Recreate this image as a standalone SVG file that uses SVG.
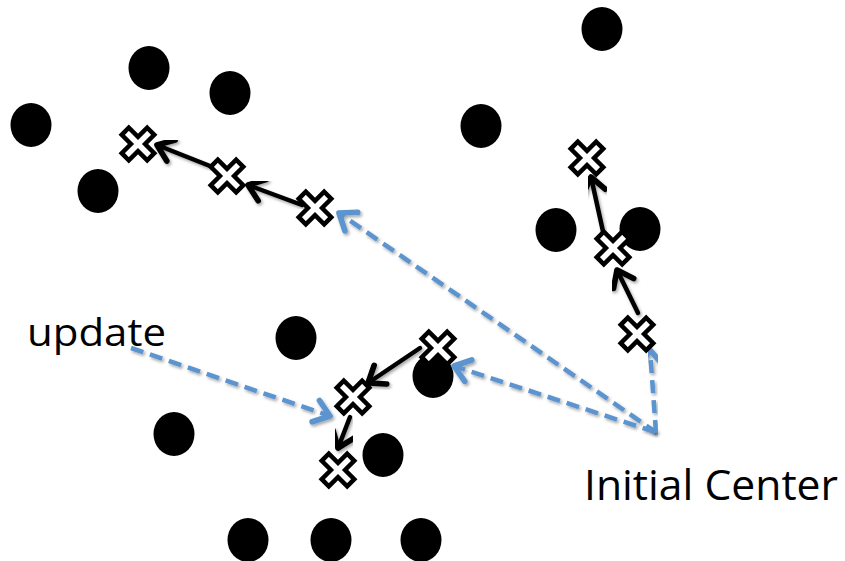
<svg xmlns="http://www.w3.org/2000/svg" width="845" height="561" viewBox="0 0 845 561">
<style>
.dot{fill:#000}
.cross{fill:#fff;stroke:#000;stroke-width:4.5;stroke-linejoin:miter}
.blk{fill:none;stroke:#000;stroke-width:4.5;stroke-linecap:round}
.blue{fill:none;stroke:#5b94cf;stroke-width:4.5;stroke-dasharray:13 7}
.lbl{font-family:"Open Sans","Noto Sans",sans-serif;fill:#000}
</style>
<defs>
<filter id="sh" x="-20%" y="-20%" width="140%" height="140%">
<feDropShadow dx="1.5" dy="2" stdDeviation="1.5" flood-color="#000" flood-opacity="0.35"/>
</filter>
<marker id="ab" markerUnits="userSpaceOnUse" markerWidth="30" markerHeight="30" viewBox="-16 -12 20 24" refX="0" refY="0" orient="auto">
<path d="M-12,-9 L0,0 L-12,9" fill="none" stroke="#000" stroke-width="4.5" stroke-linecap="round" stroke-linejoin="round"/>
</marker>
<marker id="au" markerUnits="userSpaceOnUse" markerWidth="30" markerHeight="30" viewBox="-16 -12 20 24" refX="0" refY="0" orient="auto">
<path d="M-12,-9 L0,0 L-12,9" fill="none" stroke="#5b94cf" stroke-width="4.5" stroke-linecap="round" stroke-linejoin="round"/>
</marker>
<path id="x" d="M-5,-18 H5 V-5 H18 V5 H5 V18 H-5 V5 H-18 V-5 H-5 Z" transform="rotate(45)"/>
</defs>
<g id="dots">
<ellipse id="d1" class="dot" cx="149" cy="68" rx="20.5" ry="22"/>
<ellipse id="d2" class="dot" cx="230" cy="93" rx="20.5" ry="22"/>
<ellipse id="d3" class="dot" cx="31" cy="125" rx="20.5" ry="22"/>
<ellipse id="d4" class="dot" cx="98" cy="191" rx="20.5" ry="22"/>
<ellipse id="d5" class="dot" cx="481" cy="126" rx="20.5" ry="22"/>
<ellipse id="d6" class="dot" cx="602" cy="29" rx="20.5" ry="22"/>
<ellipse id="d7" class="dot" cx="556" cy="230" rx="20.5" ry="22"/>
<ellipse id="d8" class="dot" cx="640" cy="229" rx="20.5" ry="22"/>
<ellipse id="d9" class="dot" cx="296" cy="338" rx="20.5" ry="22"/>
<ellipse id="d10" class="dot" cx="433" cy="376" rx="20.5" ry="22"/>
<ellipse id="d11" class="dot" cx="174" cy="434" rx="20.5" ry="22"/>
<ellipse id="d12" class="dot" cx="383" cy="455" rx="20.5" ry="22"/>
<ellipse id="d13" class="dot" cx="248" cy="540" rx="20.5" ry="22"/>
<ellipse id="d14" class="dot" cx="331" cy="540" rx="20.5" ry="22"/>
<ellipse id="d15" class="dot" cx="421" cy="540" rx="20.5" ry="22"/>
</g>
<g id="connectors">
<line class="blk" filter="url(#sh)" x1="302" y1="205" x2="248" y2="185" marker-end="url(#ab)"/>
<line class="blk" filter="url(#sh)" x1="210" y1="166" x2="157" y2="145" marker-end="url(#ab)"/>
<line class="blk" filter="url(#sh)" x1="420" y1="348" x2="368" y2="383" marker-end="url(#ab)"/>
<line class="blk" filter="url(#sh)" x1="350" y1="417" x2="338" y2="448" marker-end="url(#ab)"/>
<line class="blk" filter="url(#sh)" x1="638" y1="313" x2="617" y2="270" marker-end="url(#ab)"/>
<line class="blk" filter="url(#sh)" x1="604" y1="236" x2="591" y2="177" marker-end="url(#ab)"/>
<line class="blue" filter="url(#sh)" x1="657" y1="433" x2="339" y2="213" marker-end="url(#au)"/>
<line class="blue" filter="url(#sh)" x1="655" y1="432" x2="454" y2="366" marker-end="url(#au)"/>
<line class="blue" filter="url(#sh)" x1="656" y1="433" x2="650" y2="350" marker-end="url(#au)"/>
<line class="blue" filter="url(#sh)" x1="131" y1="348" x2="330" y2="416" marker-end="url(#au)"/>
</g>
<g id="c1"><use href="#x" class="cross" transform="translate(138,144)"/></g>
<g id="c2"><use href="#x" class="cross" transform="translate(227,176)"/></g>
<g id="c3"><use href="#x" class="cross" transform="translate(315,208)"/></g>
<g id="c4"><use href="#x" class="cross" transform="translate(438,348)"/></g>
<g id="c5"><use href="#x" class="cross" transform="translate(353,397)"/></g>
<g id="c6"><use href="#x" class="cross" transform="translate(338,470)"/></g>
<g id="c7"><use href="#x" class="cross" transform="translate(587,158)"/></g>
<g id="c8"><use href="#x" class="cross" transform="translate(613,248)"/></g>
<g id="c9"><use href="#x" class="cross" transform="translate(637,334)"/></g>
<g id="labels">
<text id="t-update" class="lbl" x="27" y="346" font-size="38" textLength="139" lengthAdjust="spacingAndGlyphs">update</text>
<text id="t-initial" class="lbl" x="584" y="500" font-size="42" textLength="254" lengthAdjust="spacingAndGlyphs">Initial Center</text>
</g>
</svg>
